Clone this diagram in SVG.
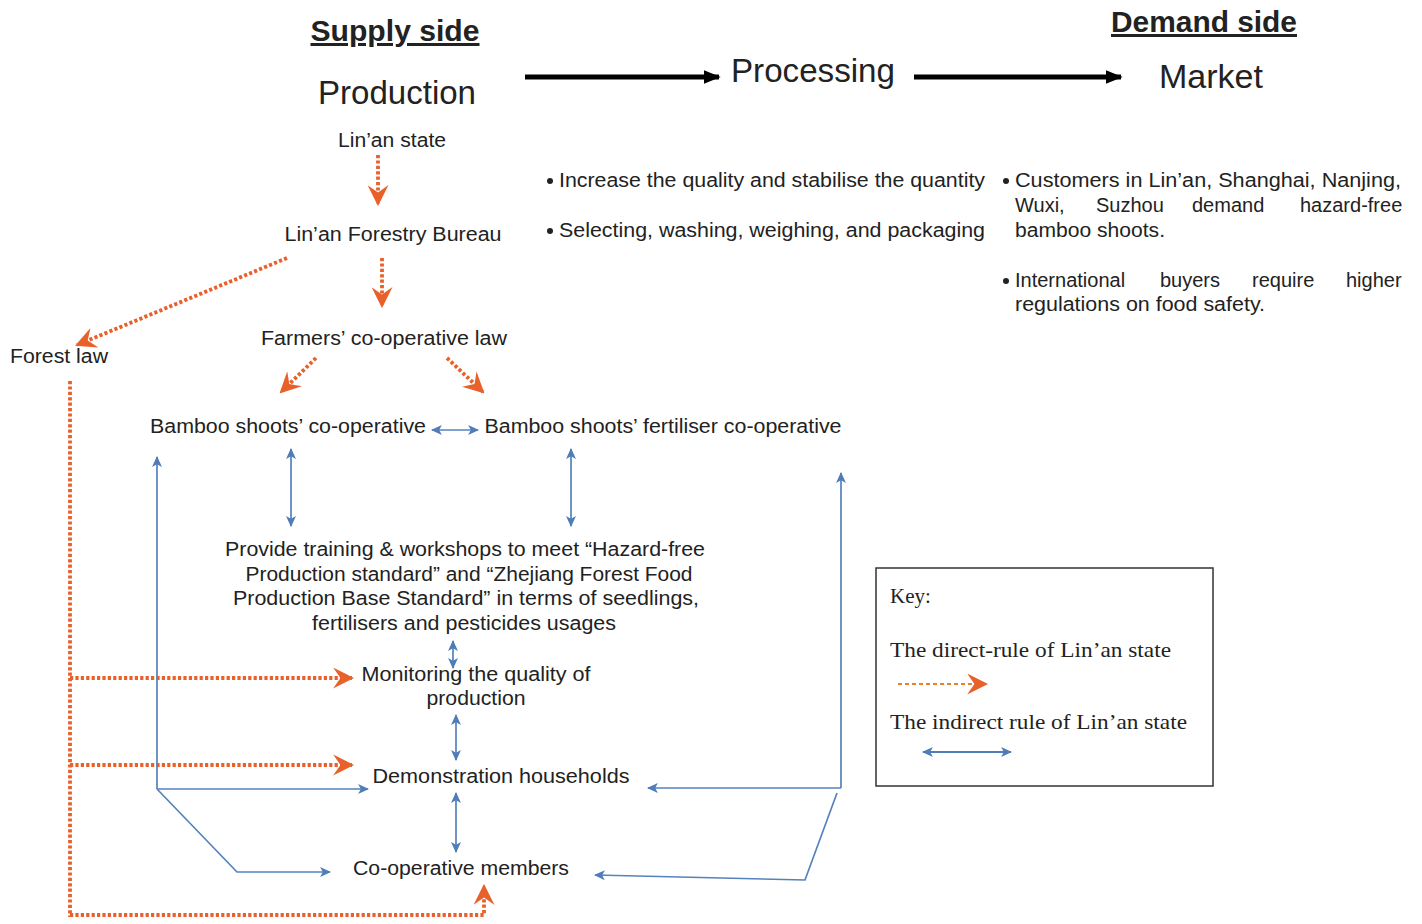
<svg xmlns="http://www.w3.org/2000/svg" width="1422" height="924" viewBox="0 0 1422 924">
<defs>
<style>
text{font-family:"Liberation Sans",Arial,sans-serif;fill:#222;}
.hd{font-weight:bold;font-size:30px;text-decoration:underline;}
.st{font-size:33px;}
.n{font-size:20px;}
.b{font-size:20px;}
.key{font-family:"Liberation Serif","Times New Roman",serif;font-size:21px;fill:#222;}
.or{stroke:#e8602a;stroke-width:3.8;stroke-dasharray:3.2 2.2;fill:none;}
.bl{stroke:#5582bd;stroke-width:1.7;fill:none;}
.blk{stroke:#000;stroke-width:5;fill:none;}
</style>
<marker id="ao" viewBox="0 0 10 10" refX="9" refY="5" markerWidth="21" markerHeight="21" markerUnits="userSpaceOnUse" orient="auto"><path d="M0,0 L10,5 L0,10 L3.5,5 z" fill="#e8602a"/></marker>
<marker id="ab" viewBox="0 0 10 10" refX="9" refY="5" markerWidth="11" markerHeight="11" markerUnits="userSpaceOnUse" orient="auto-start-reverse"><path d="M0,0.5 L10,5 L0,9.5 L2.5,5 z" fill="#4f7db8"/></marker>
<marker id="ak" viewBox="0 0 10 10" refX="9" refY="5" markerWidth="17" markerHeight="17" markerUnits="userSpaceOnUse" orient="auto"><path d="M0,1 L10,5 L0,9 z" fill="#000"/></marker>
</defs>
<rect width="1422" height="924" fill="#fff"/>

<g id="headers">
<text class="hd" x="395" y="41" text-anchor="middle" textLength="169" lengthAdjust="spacingAndGlyphs">Supply side</text>
<text class="hd" x="1204" y="32" text-anchor="middle" textLength="186" lengthAdjust="spacingAndGlyphs">Demand side</text>
</g>
<g id="stage-production"><text class="st" x="397" y="104" text-anchor="middle" textLength="158" lengthAdjust="spacingAndGlyphs">Production</text></g>
<g id="stage-processing"><text class="st" x="813" y="82" text-anchor="middle" textLength="164" lengthAdjust="spacingAndGlyphs">Processing</text></g>
<g id="stage-market"><text class="st" x="1211" y="88" text-anchor="middle" textLength="104" lengthAdjust="spacingAndGlyphs">Market</text></g>

<g id="processing-notes">
<circle cx="550" cy="181" r="3" fill="#222"/>
<text class="b" x="559" y="187" textLength="426" lengthAdjust="spacingAndGlyphs">Increase the quality and stabilise the quantity</text>
<circle cx="550" cy="231" r="3" fill="#222"/>
<text class="b" x="559" y="237" textLength="426" lengthAdjust="spacingAndGlyphs">Selecting, washing, weighing, and packaging</text>
</g>

<g id="market-notes">
<circle cx="1006" cy="181" r="3" fill="#222"/>
<text class="b" x="1015" y="187" textLength="386" lengthAdjust="spacingAndGlyphs">Customers in Lin’an, Shanghai, Nanjing,</text>
<text class="b" y="212"><tspan x="1015">Wuxi,</tspan><tspan x="1096">Suzhou</tspan><tspan x="1192">demand</tspan><tspan x="1300">hazard-free</tspan></text>
<text class="b" x="1015" y="237" textLength="150" lengthAdjust="spacingAndGlyphs">bamboo shoots.</text>
<circle cx="1006" cy="281" r="3" fill="#222"/>
<text class="b" y="287"><tspan x="1015">International</tspan><tspan x="1160">buyers</tspan><tspan x="1252">require</tspan><tspan x="1346">higher</tspan></text>
<text class="b" x="1015" y="311" textLength="250" lengthAdjust="spacingAndGlyphs">regulations on food safety.</text>
</g>

<g id="node-linan-state"><text class="n" x="392" y="147" text-anchor="middle" textLength="108" lengthAdjust="spacingAndGlyphs">Lin’an state</text></g>
<g id="node-forestry-bureau"><text class="n" x="393" y="241" text-anchor="middle" textLength="217" lengthAdjust="spacingAndGlyphs">Lin’an Forestry Bureau</text></g>
<g id="node-farmers-law"><text class="n" x="384" y="345" text-anchor="middle" textLength="246" lengthAdjust="spacingAndGlyphs">Farmers’ co-operative law</text></g>
<g id="node-forest-law"><text class="n" x="59" y="363" text-anchor="middle" textLength="98" lengthAdjust="spacingAndGlyphs">Forest law</text></g>
<g id="node-bamboo-coop"><text class="n" x="288" y="433" text-anchor="middle" textLength="276" lengthAdjust="spacingAndGlyphs">Bamboo shoots’ co-operative</text></g>
<g id="node-fertiliser-coop"><text class="n" x="663" y="433" text-anchor="middle" textLength="357" lengthAdjust="spacingAndGlyphs">Bamboo shoots’ fertiliser co-operative</text></g>
<g id="node-training">
<text class="n" x="465" y="556" text-anchor="middle" textLength="480" lengthAdjust="spacingAndGlyphs">Provide training &amp; workshops to meet “Hazard-free</text>
<text class="n" x="469" y="581" text-anchor="middle" textLength="447" lengthAdjust="spacingAndGlyphs">Production standard” and “Zhejiang Forest Food</text>
<text class="n" x="466" y="605" text-anchor="middle" textLength="466" lengthAdjust="spacingAndGlyphs">Production Base Standard” in terms of seedlings,</text>
<text class="n" x="464" y="630" text-anchor="middle" textLength="304" lengthAdjust="spacingAndGlyphs">fertilisers and pesticides usages</text>
</g>
<g id="node-monitoring">
<text class="n" x="476" y="681" text-anchor="middle" textLength="229" lengthAdjust="spacingAndGlyphs">Monitoring the quality of</text>
<text class="n" x="476" y="705" text-anchor="middle" textLength="99" lengthAdjust="spacingAndGlyphs">production</text>
</g>
<g id="node-demonstration"><text class="n" x="501" y="783" text-anchor="middle" textLength="257" lengthAdjust="spacingAndGlyphs">Demonstration households</text></g>
<g id="node-members"><text class="n" x="461" y="875" text-anchor="middle" textLength="216" lengthAdjust="spacingAndGlyphs">Co-operative members</text></g>

<g id="connectors">
<line class="blk" x1="525" y1="77" x2="719" y2="77" marker-end="url(#ak)"/>
<line class="blk" x1="914" y1="77" x2="1121" y2="77" marker-end="url(#ak)"/>

<line class="or" x1="378" y1="155" x2="378" y2="204" marker-end="url(#ao)"/>
<line class="or" x1="382" y1="258" x2="382" y2="306" marker-end="url(#ao)"/>
<line class="or" x1="287" y1="258" x2="77" y2="345" marker-end="url(#ao)"/>
<line class="or" x1="316" y1="358" x2="281" y2="392" marker-end="url(#ao)"/>
<line class="or" x1="447" y1="358" x2="483" y2="392" marker-end="url(#ao)"/>
<line class="or" x1="70" y1="381" x2="70" y2="917"/>
<line class="or" x1="70" y1="678" x2="352" y2="678" marker-end="url(#ao)"/>
<line class="or" x1="70" y1="765" x2="352" y2="765" marker-end="url(#ao)"/>
<polyline class="or" points="70,915 484,915 484,886" marker-end="url(#ao)"/>

<line class="bl" x1="432" y1="430" x2="478" y2="430" marker-start="url(#ab)" marker-end="url(#ab)"/>
<line class="bl" x1="291" y1="449" x2="291" y2="526" marker-start="url(#ab)" marker-end="url(#ab)"/>
<line class="bl" x1="571" y1="449" x2="571" y2="526" marker-start="url(#ab)" marker-end="url(#ab)"/>
<line class="bl" x1="453" y1="641" x2="453" y2="668" marker-start="url(#ab)" marker-end="url(#ab)"/>
<line class="bl" x1="456" y1="715" x2="456" y2="760" marker-start="url(#ab)" marker-end="url(#ab)"/>
<line class="bl" x1="456" y1="793" x2="456" y2="852" marker-start="url(#ab)" marker-end="url(#ab)"/>

<polyline class="bl" points="157,789 157,457" marker-end="url(#ab)"/>
<polyline class="bl" points="157,789 368,789" marker-end="url(#ab)"/>
<polyline class="bl" points="157,789 237,872 330,872" marker-end="url(#ab)"/>

<polyline class="bl" points="841,788 841,473" marker-end="url(#ab)"/>
<polyline class="bl" points="841,788 648,788" marker-end="url(#ab)"/>
<polyline class="bl" points="837,793 805,880 595,875" marker-end="url(#ab)"/>
</g>

<g id="key">
<rect x="876" y="568" width="337" height="218" fill="#fff" stroke="#333" stroke-width="1.5"/>
<text class="key" x="890" y="603">Key:</text>
<text class="key" x="890" y="657" textLength="281" lengthAdjust="spacingAndGlyphs">The direct-rule of Lin’an state</text>
<line x1="898" y1="684" x2="986" y2="684" stroke="#e8812a" stroke-width="2" stroke-dasharray="4 3" marker-end="url(#ao)"/>
<text class="key" x="890" y="729" textLength="297" lengthAdjust="spacingAndGlyphs">The indirect rule of Lin’an state</text>
<line x1="923" y1="752" x2="1011" y2="752" stroke="#4f7db8" stroke-width="2" marker-start="url(#ab)" marker-end="url(#ab)"/>
</g>
</svg>
